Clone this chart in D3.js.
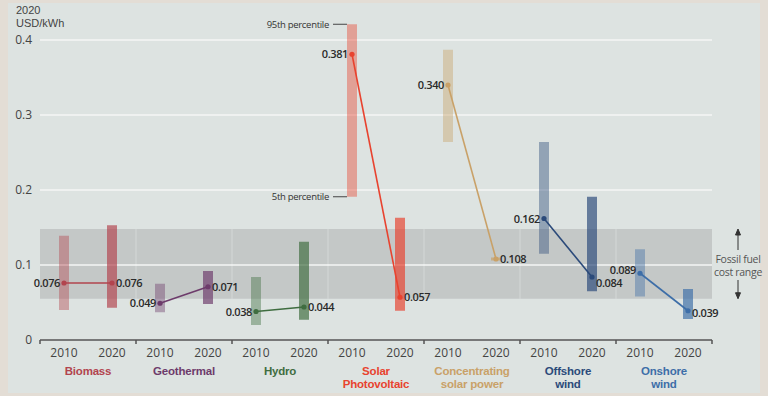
<!DOCTYPE html>
<html>
<head>
<meta charset="utf-8">
<script src="https://cdn.jsdelivr.net/npm/d3@7"></script>
<style>
	body { margin: 0; background: #e3ddd5; }
	svg { display: block; font-family: 'Open Sans', sans-serif; }
</style>
</head>
<body>
<svg id="lcoe-chart" width="768" height="396"></svg>
<script>
// technologies, each one with a 2010 and a 2020 value
const categories = ['Biomass', 'Geothermal', 'Hydro', 'Solar Photovoltaic', 'Concentrating solar power', 'Offshore wind', 'Onshore wind'];
const categoryLines = [['Biomass'], ['Geothermal'], ['Hydro'], ['Solar', 'Photovoltaic'], ['Concentrating', 'solar power'], ['Offshore', 'wind'], ['Onshore', 'wind']];
const categoryColors = ['#b2444e', '#6d3b6b', '#3f6d40', '#e8432f', '#c9a168', '#2b4a7a', '#3d6ea8'];
const years = ['2010', '2020'];

// weighted average LCOE, USD/kWh
const avg2010 = [0.076, 0.049, 0.038, 0.381, 0.340, 0.162, 0.089];
const avg2020 = [0.076, 0.071, 0.044, 0.057, 0.108, 0.084, 0.039];
// 5th / 95th percentile ranges
const p5_2010 = [0.040, 0.037, 0.020, 0.191, 0.264, 0.115, 0.058];
const p95_2010 = [0.139, 0.075, 0.084, 0.421, 0.387, 0.264, 0.121];
const p5_2020 = [0.043, 0.048, 0.027, 0.039, 0.106, 0.065, 0.028];
const p95_2020 = [0.153, 0.092, 0.131, 0.163, 0.110, 0.191, 0.068];

const fossilRange = [0.055, 0.148];
const yTicks = [0, 0.1, 0.2, 0.3, 0.4];

const svg = d3.select('svg[id=lcoe-chart]');

// light panel
svg.append('rect').attr('x', 8).attr('y', 3).attr('width', 752).attr('height', 390).attr('fill', '#dde3e1');

const x = d3.scaleBand().domain(categories).range([40, 712]).padding(0);
const xYear = d3.scalePoint().domain(years).range([0.25, 0.75]);
const y = d3.scaleLinear().domain([0, 0.4]).range([340, 40]);

const xPos = (cat, year) => x(cat) + x.bandwidth() * xYear(year);

// fossil fuel band
svg.append('rect')
	.attr('x', 40).attr('width', 672)
	.attr('y', y(fossilRange[1])).attr('height', y(fossilRange[0]) - y(fossilRange[1]))
	.attr('fill', '#c4c8c7');

// grid
svg.append('g')
	.selectAll('line')
	.data(yTicks.filter((t) => t > 0))
	.join('line')
	.attr('x1', 40).attr('x2', 712)
	.attr('y1', (d) => y(d)).attr('y2', (d) => y(d))
	.attr('stroke', '#f4f6f5').attr('stroke-width', 1.5);

svg.append('g')
	.selectAll('line')
	.data(categories.slice(1))
	.join('line')
	.attr('x1', (d) => x(d)).attr('x2', (d) => x(d))
	.attr('y1', y(fossilRange[1])).attr('y2', y(fossilRange[0]))
	.attr('stroke', '#ffffff').attr('stroke-opacity', 0.3);

// y labels
svg.append('g')
	.selectAll('text')
	.data(yTicks)
	.join('text')
	.attr('x', 32).attr('y', (d) => y(d) + 4)
	.attr('text-anchor', 'end')
	.attr('font-size', 12).attr('fill', '#444')
	.text((d) => d3.format('.1~f')(d));

svg.append('g')
	.attr('font-family', "'Liberation Sans', sans-serif")
	.attr('font-size', 11).attr('fill', '#444')
	.selectAll('text')
	.data(['2020', 'USD/kWh'])
	.join('text')
	.attr('x', 16).attr('y', (d, i) => 14 + i * 13)
	.text((d) => d);

// bars + lines + points per technology
const techs = categories.map((cat, i) => ({
	cat,
	color: categoryColors[i],
	lines: categoryLines[i],
	values: [
		{ year: '2010', avg: avg2010[i], lo: p5_2010[i], hi: p95_2010[i] },
		{ year: '2020', avg: avg2020[i], lo: p5_2020[i], hi: p95_2020[i] },
	],
}));

const bars = techs.flatMap((t) => t.values.map((v) => ({ ...v, cat: t.cat, color: t.color })));

svg.append('g')
	.selectAll('rect')
	.data(bars)
	.join('rect')
	.attr('x', (d) => xPos(d.cat, d.year) - 5)
	.attr('width', 10)
	.attr('y', (d) => y(d.hi))
	.attr('height', (d) => Math.max(2, y(d.lo) - y(d.hi)))
	.attr('fill', (d) => d.color)
	.attr('fill-opacity', (d) => (d.year === '2010' ? 0.42 : 0.68));

svg.append('g')
	.selectAll('line')
	.data(techs)
	.join('line')
	.attr('x1', (d) => xPos(d.cat, '2010')).attr('y1', (d) => y(d.values[0].avg))
	.attr('x2', (d) => xPos(d.cat, '2020')).attr('y2', (d) => y(d.values[1].avg))
	.attr('stroke', (d) => d.color).attr('stroke-width', 1.6);

svg.append('g')
	.selectAll('circle')
	.data(bars)
	.join('circle')
	.attr('cx', (d) => xPos(d.cat, d.year)).attr('cy', (d) => y(d.avg))
	.attr('r', 2.6)
	.attr('fill', (d) => d.color);

// value labels (small vertical nudges where the original shifts them)
const labelNudge = { 'Offshore wind-2020': 6, 'Onshore wind-2010': -3, 'Onshore wind-2020': 2 };
svg.append('g')
	.selectAll('text')
	.data(bars)
	.join('text')
	.attr('x', (d) => xPos(d.cat, d.year) + (d.year === '2010' ? -4 : 4))
	.attr('y', (d) => y(d.avg) + 4 + (labelNudge[`${d.cat}-${d.year}`] || 0))
	.attr('text-anchor', (d) => (d.year === '2010' ? 'end' : 'start'))
	.attr('font-size', 11).attr('font-weight', 600).attr('letter-spacing', -0.4)
	.attr('fill', '#2a2a2a')
	.text((d) => d3.format('.3f')(d.avg));

// percentile annotation on the solar PV 2010 bar
const pvLeft = xPos('Solar Photovoltaic', '2010') - 5;
[
	{ v: p95_2010[3], label: '95th percentile' },
	{ v: p5_2010[3], label: '5th percentile' },
].forEach((a) => {
	svg.append('line')
		.attr('x1', pvLeft - 14).attr('x2', pvLeft)
		.attr('y1', y(a.v)).attr('y2', y(a.v))
		.attr('stroke', '#444').attr('stroke-width', 1);
	svg.append('text')
		.attr('x', pvLeft - 18).attr('y', y(a.v) + 3.5)
		.attr('text-anchor', 'end')
		.attr('font-size', 9.5).attr('letter-spacing', -0.3).attr('fill', '#333')
		.text(a.label);
});

// x axis
svg.append('line')
	.attr('x1', 40).attr('x2', 712).attr('y1', 340).attr('y2', 340)
	.attr('stroke', '#555').attr('stroke-width', 1.5);

svg.append('g')
	.selectAll('line')
	.data(categories.map((c) => x(c)).concat([712]))
	.join('line')
	.attr('x1', (d) => d).attr('x2', (d) => d)
	.attr('y1', 340).attr('y2', 344)
	.attr('stroke', '#555').attr('stroke-width', 1.5);

svg.append('g')
	.selectAll('text')
	.data(bars)
	.join('text')
	.attr('x', (d) => xPos(d.cat, d.year)).attr('y', 357)
	.attr('text-anchor', 'middle')
	.attr('font-size', 12).attr('fill', '#444')
	.text((d) => d.year);

// technology names, one text per line
const catLines = techs.flatMap((t) => t.lines.map((line, i) => ({ line, i, cat: t.cat, color: t.color })));
svg.append('g')
	.selectAll('text')
	.data(catLines)
	.join('text')
	.attr('x', (d) => x(d.cat) + x.bandwidth() / 2)
	.attr('y', (d) => 375 + d.i * 13)
	.attr('text-anchor', 'middle')
	.attr('font-family', "'Liberation Sans', sans-serif")
	.attr('font-size', 11.5).attr('font-weight', 700).attr('letter-spacing', -0.2)
	.attr('fill', (d) => d.color)
	.text((d) => d.line);

// fossil fuel legend
const legendX = 738;
const arrow = svg.append('g').attr('stroke', '#333').attr('fill', '#333');
arrow.append('line').attr('x1', legendX).attr('x2', legendX).attr('y1', y(fossilRange[1]) + 2).attr('y2', 250);
arrow.append('path').attr('d', `M${legendX - 2.5},${y(fossilRange[1]) + 6}L${legendX},${y(fossilRange[1])}L${legendX + 2.5},${y(fossilRange[1]) + 6}Z`);
arrow.append('line').attr('x1', legendX).attr('x2', legendX).attr('y1', 280).attr('y2', y(fossilRange[0]) - 2);
arrow.append('path').attr('d', `M${legendX - 2.5},${y(fossilRange[0]) - 6}L${legendX},${y(fossilRange[0])}L${legendX + 2.5},${y(fossilRange[0]) - 6}Z`);

svg.append('text')
	.attr('x', legendX).attr('y', 263)
	.attr('text-anchor', 'middle').attr('font-size', 10.5).attr('letter-spacing', -0.3).attr('fill', '#555')
	.text('Fossil fuel');
svg.append('text')
	.attr('x', legendX).attr('y', 276)
	.attr('text-anchor', 'middle').attr('font-size', 10.5).attr('letter-spacing', -0.3).attr('fill', '#555')
	.text('cost range');
</script>
</body>
</html>
